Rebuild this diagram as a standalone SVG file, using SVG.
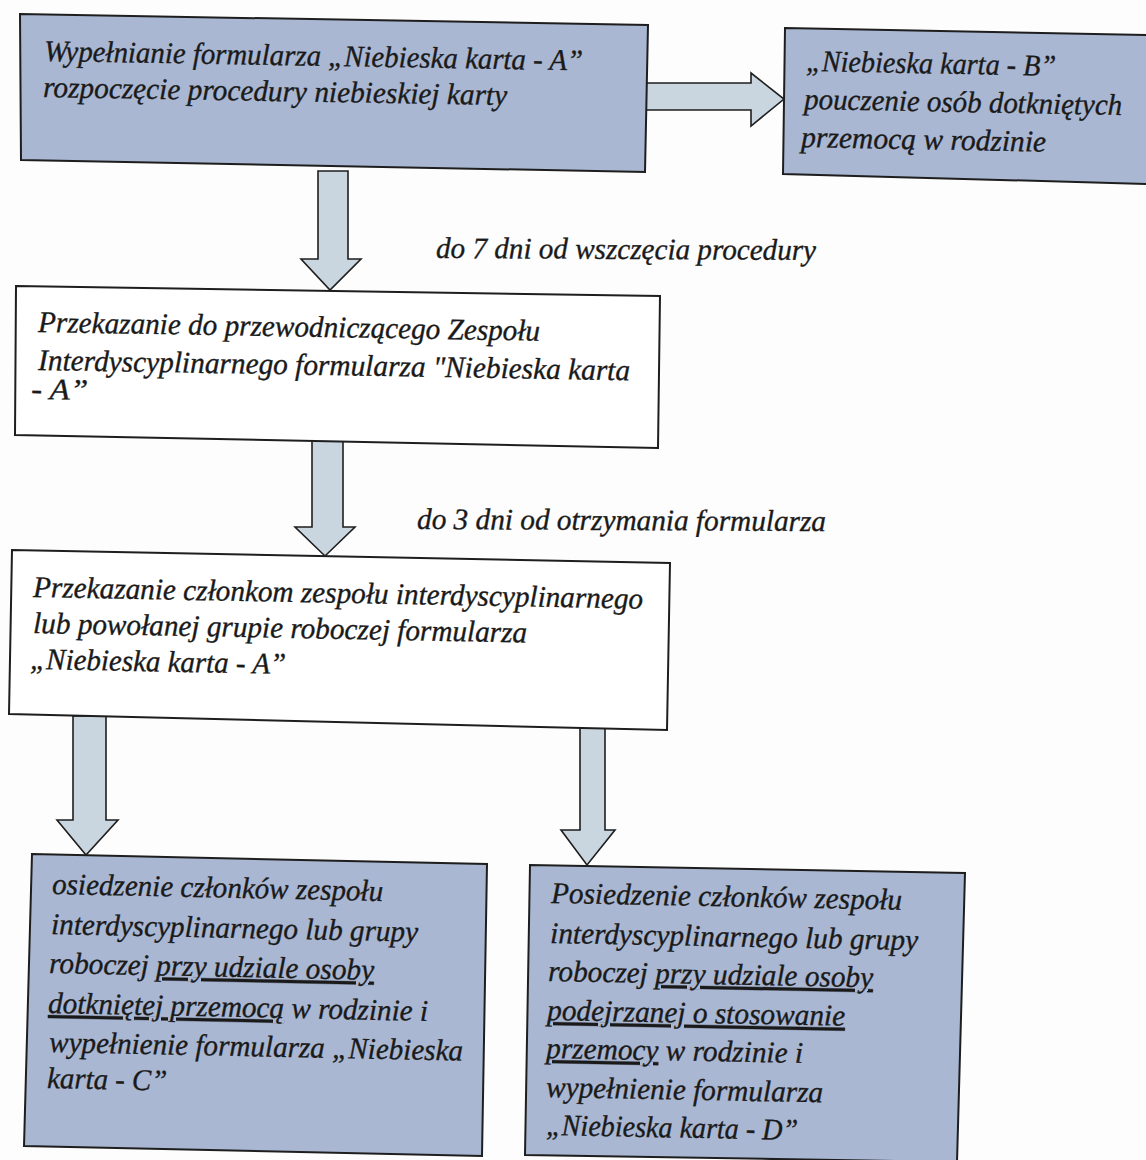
<svg xmlns="http://www.w3.org/2000/svg" width="1146" height="1160" viewBox="0 0 1146 1160">
<style>
.box{fill:#a9b7d3;stroke:#1e1e1e;stroke-width:2}
.wbox{fill:#ffffff;stroke:#1e1e1e;stroke-width:2}
.arr{fill:#c9d6e0;stroke:#1e1e1e;stroke-width:1.6;stroke-linejoin:miter}
text{font-family:"Liberation Serif","Times New Roman",serif;font-style:italic;font-size:30px;fill:#1a1a1a;stroke:#1a1a1a;stroke-width:0.35}
.u{text-decoration:underline}
</style>
<rect x="0" y="0" width="1146" height="1160" fill="#fdfdfd"/>
<g id="connectors">
  <polygon class="arr" points="318,171 348,171 348,259 361,259 330,290 301,259 318,259"/>
  <polygon class="arr" points="645,83 751,83 751,73 784,99 751,126 751,110 645,110"/>
  <polygon class="arr" points="312,440 343,440 343,527 355,527 325,556 295,527 312,527"/>
  <polygon class="arr" points="73,716 106,716 106,820 118,820 86,855 57,820 73,820"/>
  <polygon class="arr" points="580,727 605,727 605,830 615,830 587,865 561,830 580,830"/>
  <text x="436" y="258" textLength="380" lengthAdjust="spacingAndGlyphs" transform="rotate(0.3 436 258)">do 7 dni od wszczęcia procedury</text>
  <text x="417" y="529" textLength="409" lengthAdjust="spacingAndGlyphs" transform="rotate(0.3 417 529)">do 3 dni od otrzymania formularza</text>
</g>
<g id="node-karta-a">
  <polygon class="box" points="20,14 648,25 645,172 21,160"/>
  <text x="44" y="61" textLength="539" lengthAdjust="spacingAndGlyphs" transform="rotate(1.0 44 61)">Wypełnianie formularza „Niebieska karta - A”</text>
  <text x="43" y="97" textLength="464" lengthAdjust="spacingAndGlyphs" transform="rotate(1.0 43 97)">rozpoczęcie procedury niebieskiej karty</text>
</g>
<g id="node-karta-b">
  <polygon class="box" points="785,28 1150,35 1150,184 783,174"/>
  <text x="806" y="71" textLength="250" lengthAdjust="spacingAndGlyphs" transform="rotate(1.1 806 71)">„Niebieska karta - B”</text>
  <text x="804" y="109" textLength="318" lengthAdjust="spacingAndGlyphs" transform="rotate(1.1 804 109)">pouczenie osób dotkniętych</text>
  <text x="801" y="147" textLength="245" lengthAdjust="spacingAndGlyphs" transform="rotate(1.1 801 147)">przemocą w rodzinie</text>
</g>
<g id="node-przekazanie-przewodniczacy">
  <polygon class="wbox" points="16,286 660,296 658,448 15,435"/>
  <text x="38" y="332" textLength="502" lengthAdjust="spacingAndGlyphs" transform="rotate(1.0 38 332)">Przekazanie do przewodniczącego Zespołu</text>
  <text x="38" y="370" textLength="592" lengthAdjust="spacingAndGlyphs" transform="rotate(1.0 38 370)">Interdyscyplinarnego formularza "Niebieska karta</text>
  <text x="31" y="399" textLength="57" lengthAdjust="spacingAndGlyphs" transform="rotate(1.0 31 399)">- A”</text>
</g>
<g id="node-przekazanie-czlonkom">
  <polygon class="wbox" points="12,550 670,563 667,730 9,714"/>
  <text x="33" y="597" textLength="610" lengthAdjust="spacingAndGlyphs" transform="rotate(1.1 33 597)">Przekazanie członkom zespołu interdyscyplinarnego</text>
  <text x="33" y="633" textLength="494" lengthAdjust="spacingAndGlyphs" transform="rotate(1.1 33 633)">lub powołanej grupie roboczej formularza</text>
  <text x="30" y="669" textLength="256" lengthAdjust="spacingAndGlyphs" transform="rotate(1.1 30 669)">„Niebieska karta - A”</text>
</g>
<g id="node-karta-c">
  <polygon class="box" points="32,854 487,864 482,1156 24,1146"/>
  <text x="52" y="894" textLength="331" lengthAdjust="spacingAndGlyphs" transform="rotate(1.2 52 894)">osiedzenie członków zespołu</text>
  <text x="51" y="934" textLength="367" lengthAdjust="spacingAndGlyphs" transform="rotate(1.2 51 934)">interdyscyplinarnego lub grupy</text>
  <text x="49" y="973" textLength="325" lengthAdjust="spacingAndGlyphs" transform="rotate(1.2 49 973)">roboczej <tspan class="u">przy udziale osoby</tspan></text>
  <text x="48" y="1013" textLength="380" lengthAdjust="spacingAndGlyphs" transform="rotate(1.2 48 1013)"><tspan class="u">dotkniętej przemocą</tspan> w rodzinie i</text>
  <text x="49" y="1052" textLength="414" lengthAdjust="spacingAndGlyphs" transform="rotate(1.2 49 1052)">wypełnienie formularza „Niebieska</text>
  <text x="47" y="1088" textLength="120" lengthAdjust="spacingAndGlyphs" transform="rotate(1.2 47 1088)">karta - C”</text>
</g>
<g id="node-karta-d">
  <polygon class="box" points="530,865 965,873 957,1162 525,1155"/>
  <text x="551" y="903" textLength="351" lengthAdjust="spacingAndGlyphs" transform="rotate(1.1 551 903)">Posiedzenie członków zespołu</text>
  <text x="550" y="943" textLength="368" lengthAdjust="spacingAndGlyphs" transform="rotate(1.1 550 943)">interdyscyplinarnego lub grupy</text>
  <text x="548" y="981" textLength="325" lengthAdjust="spacingAndGlyphs" transform="rotate(1.1 548 981)">roboczej <tspan class="u">przy udziale osoby</tspan></text>
  <text x="547" y="1020" textLength="298" lengthAdjust="spacingAndGlyphs" transform="rotate(1.1 547 1020)"><tspan class="u">podejrzanej o stosowanie</tspan></text>
  <text x="546" y="1058" textLength="257" lengthAdjust="spacingAndGlyphs" transform="rotate(1.1 546 1058)"><tspan class="u">przemocy</tspan> w rodzinie i</text>
  <text x="546" y="1097" textLength="277" lengthAdjust="spacingAndGlyphs" transform="rotate(1.1 546 1097)">wypełnienie formularza</text>
  <text x="546" y="1135" textLength="252" lengthAdjust="spacingAndGlyphs" transform="rotate(1.1 546 1135)">„Niebieska karta - D”</text>
</g>
</svg>
